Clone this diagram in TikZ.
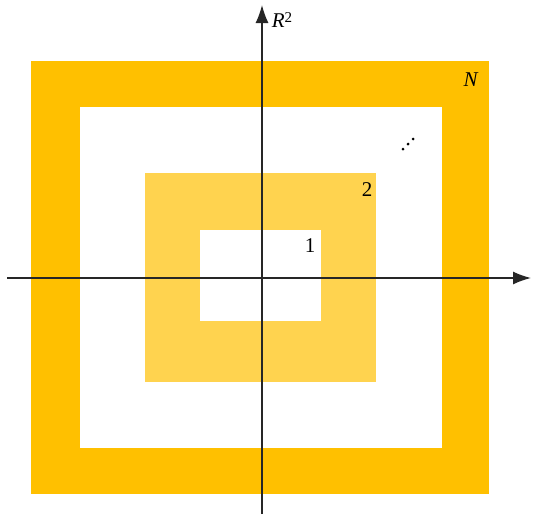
\documentclass[tikz,border=0pt]{standalone}
\usepackage{fontspec}
\setmainfont{Liberation Serif}
\usetikzlibrary{arrows.meta}
\definecolor{outerc}{HTML}{FFC000}
\definecolor{innerc}{HTML}{FFD34F}
\begin{document}
\begin{tikzpicture}[x=1pt,y=-1pt,
  axis/.style={line width=1.4pt,draw=black!85,-{Latex[length=18pt,width=13pt]}},
  lbl/.style={font=\fontsize{21}{21}\selectfont,inner sep=0pt},
  dotc/.style={fill=black,circle,inner sep=0pt,minimum size=3pt}]
\useasboundingbox (0,0) rectangle (535,515);
\fill[outerc] (31,61) rectangle (489,494);
\fill[white] (80,107) rectangle (442,448);
\fill[innerc] (145,173) rectangle (376,382);
\fill[white] (200,230) rectangle (321,321);
\coordinate (xs) at (7,278);
\coordinate (xe) at (531,278);
\coordinate (ys) at (262,514);
\coordinate (ye) at (262,5);
\draw[axis] (xs) -- (xe);
\draw[axis] (ys) -- (ye);
\node[lbl] (r2) at (282,20) {\textit{R}\raisebox{0.6ex}{\fontsize{15}{15}\selectfont 2}};
\node[lbl] (n) at (471,80) {\textit{N}};
\node[lbl] (two) at (367,190) {2};
\node[lbl] (one) at (310,246) {1};
\node[dotc] (d1) at (403,149) {};
\node[dotc] (d2) at (408,144) {};
\node[dotc] (d3) at (413,139) {};
\end{tikzpicture}
\end{document}
